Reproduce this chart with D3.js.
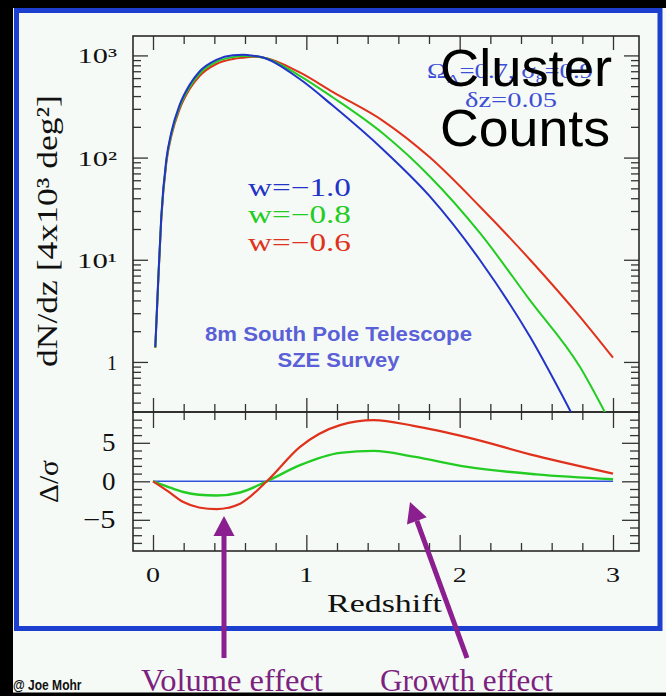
<!DOCTYPE html>
<html><head><meta charset="utf-8">
<script src="https://cdn.jsdelivr.net/npm/d3@7"></script>
<style>html,body{margin:0;padding:0;background:#000;} svg{display:block}</style>
</head><body><svg id="c" width="666" height="696"></svg>
<script>
// ---------------- data ----------------
const seriesNames = ["w=\u22121.0", "w=\u22120.8", "w=\u22120.6"];
// upper panel: dN/dz per series
const zBlue  = [0.015,0.033,0.054,0.087,0.12,0.174,0.239,0.305,0.413,0.522,0.587,0.652,0.717,0.957,1.174,1.5,1.807,2.133,2.459,2.727];
const nBlue  = [1.4,5.9,26.5,96,178,328,515,700,905,1005,1015,995,955,587,321,120,41.5,9.9,1.76,0.32];
const zGreen = [0.015,0.033,0.054,0.087,0.12,0.174,0.239,0.305,0.413,0.522,0.587,0.652,0.717,0.957,1.174,1.5,1.807,2.133,2.459,2.785,2.948];
const nGreen = [1.38,5.7,25.7,92,170,313,492,665,865,962,985,980,955,632,387,172,65,18.2,4.0,0.89,0.32];
const zRed   = [0.015,0.033,0.054,0.087,0.12,0.174,0.239,0.305,0.413,0.522,0.587,0.652,0.717,0.957,1.174,1.5,1.807,2.133,2.459,2.785,3.0];
const nRed   = [1.37,5.5,24.9,89,163,298,468,632,824,922,950,968,955,681,437,229,100,33,10,2.76,1.10];
// lower panel: Delta/sigma relative to w=-1
const zLow     = [0,0.089,0.198,0.3,0.415,0.568,0.742,0.959,1.22,1.44,1.7,2.05,2.5,3.0];
const dBlue    = [0,0,0,0,0,0,0,0,0,0,0,0,0,0];
const dGreen   = [0,-0.65,-1.39,-1.75,-1.85,-1.45,0,2.09,3.69,3.95,3.2,1.87,0.9,0.26];
const dRed     = [0,-1.17,-2.7,-3.4,-3.6,-2.9,0,4.47,7.3,7.95,7.2,5.7,3.3,1.0];
// ticks
const xMajorTicks = [0,1,2,3];
const xTickLabels = ["0","1","2","3"];
const yTopExps    = [0,1,2,3];
const yTopLabels  = ["1","10\u00B9","10\u00B2","10\u00B3"];
const yLowMajor   = [-5,0,5];
const yLowLabels  = ["\u22125","0","5"];

// ---------------- layout ----------------
const W = 666, H = 696;
const L = 133, R = 639, T = 36, M = 412, B = 551;
const colBlue = "#2233c8", colGreen = "#22cc22", colRed = "#e0311c";
const serif = "'Liberation Serif','Times New Roman',serif";
const sans = "'Liberation Sans',Arial,Helvetica,sans-serif";

const svg = d3.select("#c");
svg.append("rect").attr("width", W).attr("height", H).attr("fill", "#f6faf6");
svg.append("rect").attr("x", 0).attr("y", 0).attr("width", W).attr("height", 8).attr("fill", "#000");
svg.append("rect").attr("x", 0).attr("y", 0).attr("width", 13).attr("height", H).attr("fill", "#000");
svg.append("rect").attr("x", 16.5).attr("y", 10.5).attr("width", 643.5).attr("height", 618)
  .attr("fill", "none").attr("stroke", "#1d3fd0").attr("stroke-width", 5);

const x  = d3.scaleLinear().domain([0, 3]).range([153, 613]);
const yU = d3.scaleLog().domain([Math.pow(10, -0.49), Math.pow(10, 3.19)]).range([M, T]);
const yL = d3.scaleLinear().domain([-9.05, 9]).range([B, M]);

// ---------------- helpers ----------------
function label(p) {
  const g = svg.append("g").attr("transform", `translate(${p.x},${p.y})` + (p.rotate ? ` rotate(${p.rotate})` : ""));
  const t = g.append("text").attr("font-family", p.family || serif).attr("font-size", p.size)
    .attr("font-weight", p.weight || "normal").attr("fill", p.fill || "#111")
    .attr("text-anchor", p.anchor || "start");
  let shift = 0;
  (p.parts || [[p.text, null]]).forEach(([s, k]) => {
    const target = k === "sup" ? -0.38 * p.size : k === "sub" ? 0.25 * p.size : 0;
    t.append("tspan").text(s).attr("dy", target - shift).attr("font-size", k ? p.size * 0.65 : null);
    shift = target;
  });
  if (p.width) {
    const w = t.node().getBBox().width;
    t.attr("transform", `scale(${p.width / w},1)`);
  }
  return t;
}
function tickAxis(axisFn, scale, values, size, tr) {
  svg.append("g").attr("transform", tr).attr("color", "#333")
    .call(axisFn(scale).tickValues(values).tickSize(size).tickFormat(""))
    .call(g => g.select(".domain").remove())
    .call(g => g.selectAll("line").attr("stroke-width", 1.3));
}

// ---------------- ticks ----------------
const xAll = d3.range(0, 16).map(i => +(i * 0.2).toFixed(1));
const xMinor = xAll.filter(v => !xMajorTicks.includes(v));
const logMajor = yTopExps.map(e => Math.pow(10, e));
const logMinor = [];
[-1, 0, 1, 2, 3].forEach(e => d3.range(2, 10).forEach(m => {
  const v = m * Math.pow(10, e);
  if (v > yU.domain()[0] && v < yU.domain()[1]) logMinor.push(v);
}));
const lowMinor = d3.range(-8, 9).filter(v => !yLowMajor.includes(v));

// upper panel
tickAxis(d3.axisBottom, x, xMajorTicks, 14, `translate(0,${T})`);
tickAxis(d3.axisBottom, x, xMinor, 8, `translate(0,${T})`);
tickAxis(d3.axisTop, x, xMajorTicks, 14, `translate(0,${M})`);
tickAxis(d3.axisTop, x, xMinor, 8, `translate(0,${M})`);
tickAxis(d3.axisRight, yU, logMajor, 15, `translate(${L},0)`);
tickAxis(d3.axisRight, yU, logMinor, 8, `translate(${L},0)`);
tickAxis(d3.axisLeft, yU, logMajor, 15, `translate(${R},0)`);
tickAxis(d3.axisLeft, yU, logMinor, 8, `translate(${R},0)`);
// lower panel
tickAxis(d3.axisBottom, x, xMajorTicks, 16, `translate(0,${M})`);
tickAxis(d3.axisBottom, x, xMinor, 8, `translate(0,${M})`);
tickAxis(d3.axisTop, x, xMajorTicks, 16, `translate(0,${B})`);
tickAxis(d3.axisTop, x, xMinor, 8, `translate(0,${B})`);
tickAxis(d3.axisRight, yL, yLowMajor, 17, `translate(${L},0)`);
tickAxis(d3.axisRight, yL, lowMinor, 9, `translate(${L},0)`);
tickAxis(d3.axisLeft, yL, yLowMajor, 17, `translate(${R},0)`);
tickAxis(d3.axisLeft, yL, lowMinor, 9, `translate(${R},0)`);

// frames
svg.append("rect").attr("x", L).attr("y", T).attr("width", R - L).attr("height", M - T)
  .attr("fill", "none").attr("stroke", "#2a2a2a").attr("stroke-width", 1.6);
svg.append("rect").attr("x", L).attr("y", M).attr("width", R - L).attr("height", B - M)
  .attr("fill", "none").attr("stroke", "#2a2a2a").attr("stroke-width", 1.6);

// ---------------- curves ----------------
const defs = svg.append("defs");
defs.append("clipPath").attr("id", "clipU").append("rect").attr("x", L).attr("y", T).attr("width", R - L).attr("height", M - T);
defs.append("clipPath").attr("id", "clipL").append("rect").attr("x", L).attr("y", M).attr("width", R - L).attr("height", B - M);

const lineU = d3.line().x(d => x(d[0])).y(d => yU(d[1])).curve(d3.curveMonotoneX);
const lineL = d3.line().x(d => x(d[0])).y(d => yL(d[1])).curve(d3.curveMonotoneX);
const upper = [[zBlue, nBlue, colBlue], [zGreen, nGreen, colGreen], [zRed, nRed, colRed]];
const gU = svg.append("g").attr("clip-path", "url(#clipU)");
gU.selectAll("path").data(upper.slice().reverse()).join("path")
  .attr("d", s => lineU(s[0].map((z, i) => [z, s[1][i]])))
  .attr("fill", "none").attr("stroke", s => s[2]).attr("stroke-width", 2);
const lower = [[dBlue, "#3050e0", 1.6], [dGreen, colGreen, 2.4], [dRed, colRed, 2.2]];
const gL = svg.append("g").attr("clip-path", "url(#clipL)");
gL.selectAll("path").data(lower).join("path")
  .attr("d", s => lineL(zLow.map((z, i) => [z, s[0][i]])))
  .attr("fill", "none").attr("stroke", s => s[1]).attr("stroke-width", s => s[2]);

// ---------------- tick labels ----------------
yTopExps.forEach((e, i) => {
  label({x: 117, y: yU(Math.pow(10, e)) + 8, text: yTopLabels[i], size: 22, anchor: "end",
         width: e === 0 ? 10 : 40});
});
yLowMajor.forEach((v, i) => {
  label({x: 115.5, y: yL(v) + 8.5, text: yLowLabels[i], size: 25, anchor: "end", width: v < 0 ? 32.5 : 13.5});
});
xMajorTicks.forEach((v, i) => {
  label({x: x(v), y: 582, text: xTickLabels[i], size: 22, anchor: "middle", width: 14});
});

// ---------------- axis titles ----------------
label({x: 384.5, y: 612, text: "Redshift", size: 25, anchor: "middle", width: 115});
label({x: 57, y: 231, rotate: -90, text: "dN/dz [4x10\u00B3 deg\u00B2]", size: 30, anchor: "middle", width: 272});
label({x: 58, y: 481.5, rotate: -90, parts: [["\u0394/", null], ["\u03C3", null]], size: 28, anchor: "middle", width: 43});

// ---------------- legend / annotations ----------------
const legCols = [colBlue, colGreen, colRed];
const legY = [196, 223, 251];
seriesNames.forEach((s, i) => label({x: 248, y: legY[i], text: s, size: 25, fill: legCols[i], width: 103}));

label({x: 338.5, y: 341, text: "8m South Pole Telescope", family: sans, weight: "bold", size: 20, fill: "#5a60d8", anchor: "middle", width: 267});
label({x: 338.5, y: 367, text: "SZE Survey", family: sans, weight: "bold", size: 20, fill: "#5a60d8", anchor: "middle", width: 123});

label({x: 427, y: 78, parts: [["\u03A9", null], ["\u039B", "sub"], ["=0.7, \u03C3", null], ["8", "sub"], ["=0.9", null]],
       size: 20, fill: "#3d4fd6", width: 166});
label({x: 511, y: 107, text: "\u03B4z=0.05", size: 20, fill: "#3d4fd6", anchor: "middle", width: 92});

label({x: 526, y: 86, text: "Cluster", family: sans, size: 52, fill: "#000", anchor: "middle", width: 172});
label({x: 525, y: 146, text: "Counts", family: sans, size: 52, fill: "#000", anchor: "middle", width: 170});

// arrows
function arrow(x1, y1, x2, y2, col) {
  const a = Math.atan2(y2 - y1, x2 - x1), hl = 20, hw = 10.5;
  const bx = x2 - hl * Math.cos(a), by = y2 - hl * Math.sin(a);
  svg.append("line").attr("x1", x1).attr("y1", y1).attr("x2", bx).attr("y2", by)
    .attr("stroke", col).attr("stroke-width", 5);
  const px = -Math.sin(a), py = Math.cos(a);
  svg.append("path").attr("d", `M${x2},${y2}L${bx + hw * px},${by + hw * py}L${bx - hw * px},${by - hw * py}Z`).attr("fill", col);
}
const purple = "#8b1f8f";
arrow(224, 658, 224, 516, purple);
arrow(467, 658, 410, 502, purple);

label({x: 141, y: 690.5, text: "Volume effect", size: 32, fill: "#7b2180", width: 182});
label({x: 380, y: 690.5, text: "Growth effect", size: 32, fill: "#7b2180", width: 173});
label({x: 13, y: 690, text: "@ Joe Mohr", family: sans, weight: "bold", size: 14, fill: "#111", width: 69});

svg.append("rect").attr("x", 0).attr("y", 692.5).attr("width", W).attr("height", 4).attr("fill", "#000");
</script></body></html>
